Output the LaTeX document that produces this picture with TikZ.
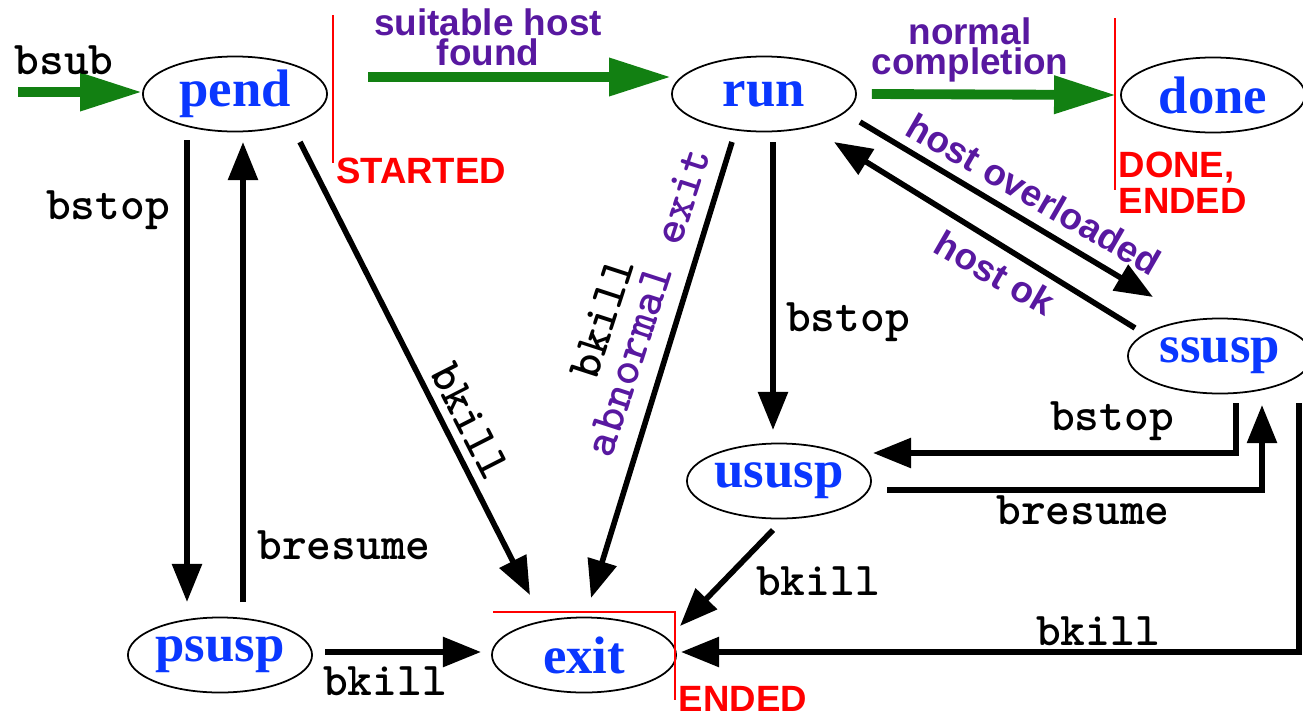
\documentclass[tikz,border=0pt]{standalone}
\usepackage{fontspec}
\setmainfont{Liberation Serif}
\setsansfont{Liberation Sans}
\usetikzlibrary{
    calc,positioning,arrows.meta,shapes.geometric
}
\definecolor{stateblue}{RGB}{10,55,255}
\definecolor{whypurple}{RGB}{88,24,160}
\definecolor{gogreen}{RGB}{18,128,18}
\tikzset{
    jobstate/.style={ellipse, draw, line width=0.5pt, minimum width=1.84cm,
        minimum height=0.75cm, inner sep=0pt, text=stateblue,
        font=\fontsize{15}{15}\selectfont\bfseries},
    trans/.style={line width=1.6pt, -{Triangle[length=0.38cm,width=0.29cm]}},
    go/.style={draw=gogreen, line width=2.8pt, -{Triangle[length=0.62cm,width=0.36cm]}},
    cmd/.style={inner sep=0pt, font=\fontsize{13.4}{13.4}\selectfont\ttfamily\bfseries},
    why/.style={inner sep=0pt, text=whypurple, align=center,
        font=\fontsize{10.5}{8.6}\selectfont\sffamily\bfseries},
    status/.style={inner sep=0pt, text=red, align=left,
        font=\fontsize{10.4}{10.2}\selectfont\sffamily\bfseries},
    statusline/.style={draw=red, line width=0.6pt}
}

\begin{document}
\begin{tikzpicture}[x=0.01cm, y=-0.01cm]
    \useasboundingbox (0,0) rectangle (1303,715);
    % States
    \node[jobstate] (pend) at (235,94) {pend};
    \node[jobstate] (run) at (764,94) {run};
    \node[jobstate] (done) at (1213,95) {done};
    \node[jobstate] (ssusp) at (1220,356) {ssusp};
    \node[jobstate] (ususp) at (779,481) {ususp};
    \node[jobstate] (psusp) at (220,655) {psusp};
    \node[jobstate] (exit) at (584,655) {exit};
    % Submission and completion
    \coordinate (entry) at (18,92);
    \coordinate (found) at (368,77);
    \draw[go] (entry) -- (entry -| pend.west);
    \draw[go] (found) -- (found -| run.west);
    \draw[go] ([xshift=0.15cm]run.east) -- ([xshift=-0.04cm]done.west);
    % Transitions
    \draw[trans] ($(pend)+(-48,46)$) -- ($(psusp)+(-33,-53)$);
    \draw[trans] ($(psusp)+(23,-53)$) -- ($(pend)+(8,48)$);
    \draw[trans] ($(pend)+(65,48)$) -- ($(exit)+(-54,-60)$);
    \draw[trans] ($(psusp)+(105,-3)$) -- ($(exit)+(-103,-3)$);
    \draw[trans] ($(run)+(-32,48)$) -- ($(exit)+(7,-57)$);
    \draw[trans] ($(run)+(9,48)$) -- ($(ususp)+(-6,-51)$);
    \draw[trans] ($(run)+(96,28)$) -- ($(ssusp)+(-67,-59)$);
    \draw[trans] ($(ssusp)+(-85,-28)$) -- ($(run)+(70,48)$);
    \draw[trans] ($(ssusp)+(16,47)$) |- ($(ususp)+(94,-28)$);
    \draw[trans] ($(ususp)+(108,9)$) -| ($(ssusp)+(42,49)$);
    \draw[trans] ($(ususp)+(-6,49)$) -- ($(exit)+(96,-29)$);
    \draw[trans] ($(ssusp)+(79,47)$) |- ($(exit)+(97,-3)$);
    % Labels
    \node[cmd] (bsubtxt) at (64,60) {bsub};
    \node[why] (foundtxt) at (488,37) {suitable host\\found};
    \node[why] (normaltxt) at (970,50) {normal\\completion};
    \node[cmd] (pstoptxt) at (108,210) {bstop};
    \node[cmd] (presumetxt) at (344,545) {bresume};
    \node[cmd, rotate=-63] (pkilltxt) at (470,421) {bkill};
    \node[cmd] (pskilltxt) at (385,681) {bkill};
    \node[cmd, rotate=72] (rkilltxt) at (602,318) {bkill};
    \node[cmd, rotate=72, text=whypurple] (abnormaltxt) at (648,302) {abnormal exit};
    \node[cmd] (rstoptxt) at (848,322) {bstop};
    \node[why, rotate=-30] (overtxt) at (1034,194) {host overloaded};
    \node[why, rotate=-30] (oktxt) at (995,273) {host ok};
    \node[cmd] (sstoptxt) at (1112,421) {bstop};
    \node[cmd] (sresumetxt) at (1083,510) {bresume};
    \node[cmd] (ukilltxt) at (818,581) {bkill};
    \node[cmd] (skilltxt) at (1098,631) {bkill};
    % Job status markers
    \draw[statusline] (333,15) -- (333,163);
    \node[status] (startedtxt) at (421,171) {STARTED};
    \draw[statusline] (1115,18) -- (1115,190);
    \node[status, anchor=west] (donetxt) at (1118,183) {DONE,\\ENDED};
    \draw[statusline] (493,612) -- (675,612) -- (675,700);
    \node[status] (endedtxt) at (743,699) {ENDED};
\end{tikzpicture}
\end{document}
